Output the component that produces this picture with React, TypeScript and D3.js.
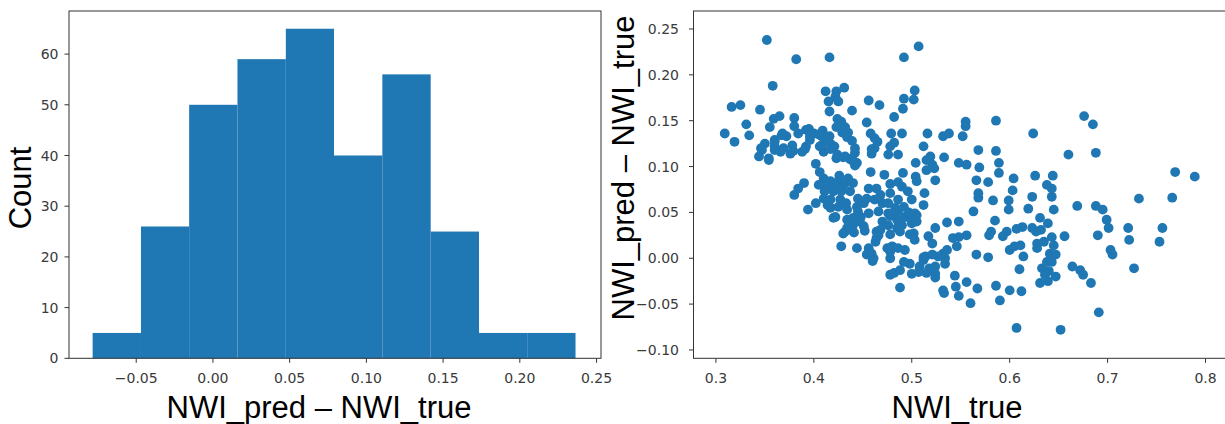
import React from 'react';
import * as d3 from 'd3';

// ---------- data ----------
const histEdges = [-0.0784, -0.0469, -0.0155, 0.016, 0.0475, 0.0789, 0.1104, 0.1419, 0.1734, 0.2048, 0.2363];
const histCounts = [5, 26, 50, 59, 65, 40, 56, 25, 5, 5];
const histXTicks = [-0.05, 0, 0.05, 0.1, 0.15, 0.2, 0.25];
const histYTicks = [0, 10, 20, 30, 40, 50, 60];
const scatterXTicks = [0.3, 0.4, 0.5, 0.6, 0.7, 0.8];
const scatterYTicks = [-0.1, -0.05, 0, 0.05, 0.1, 0.15, 0.2, 0.25];
const histXLabel = 'NWI_pred \u2013 NWI_true';
const histYLabel = 'Count';
const scatterXLabel = 'NWI_true';
const scatterYLabel = 'NWI_pred \u2013 NWI_true';

const scatterPoints: [number, number][] = [
  [0.352, 0.238], [0.507, 0.231], [0.382, 0.217], [0.416, 0.219], [0.492, 0.219], [0.358, 0.188],
  [0.412, 0.182], [0.423, 0.182], [0.431, 0.186], [0.422, 0.176], [0.415, 0.171], [0.425, 0.171], [0.416, 0.160],
  [0.503, 0.183], [0.492, 0.174], [0.502, 0.173], [0.491, 0.163], [0.456, 0.172], [0.467, 0.167], [0.439, 0.161],
  [0.316, 0.165], [0.325, 0.167], [0.345, 0.162], [0.482, 0.154], [0.454, 0.148], [0.555, 0.149], [0.555, 0.144],
  [0.586, 0.150], [0.676, 0.155], [0.685, 0.146],
  [0.309, 0.136], [0.319, 0.127], [0.331, 0.146], [0.334, 0.134], [0.355, 0.143], [0.359, 0.152], [0.365, 0.155],
  [0.380, 0.153], [0.380, 0.144],
  [0.624, 0.136], [0.516, 0.136], [0.552, 0.133], [0.532, 0.133], [0.538, 0.136], [0.490, 0.136], [0.479, 0.136],
  [0.458, 0.136], [0.462, 0.131], [0.465, 0.127],
  [0.435, 0.137], [0.432, 0.143], [0.428, 0.149], [0.424, 0.152], [0.409, 0.139], [0.416, 0.133], [0.400, 0.136],
  [0.392, 0.140], [0.384, 0.136], [0.372, 0.133], [0.368, 0.136], [0.360, 0.129], [0.350, 0.125], [0.346, 0.120],
  [0.344, 0.111], [0.354, 0.107], [0.360, 0.122], [0.366, 0.116], [0.376, 0.114], [0.378, 0.123], [0.388, 0.116],
  [0.396, 0.129], [0.392, 0.122], [0.406, 0.122], [0.408, 0.133], [0.410, 0.116], [0.421, 0.122], [0.424, 0.113],
  [0.432, 0.111], [0.442, 0.120], [0.440, 0.106], [0.444, 0.104], [0.462, 0.120], [0.459, 0.114], [0.476, 0.113],
  [0.486, 0.113], [0.478, 0.122], [0.482, 0.126], [0.512, 0.122], [0.519, 0.111], [0.521, 0.102], [0.523, 0.098],
  [0.533, 0.110], [0.504, 0.104], [0.548, 0.104], [0.556, 0.102], [0.568, 0.118], [0.586, 0.117], [0.589, 0.104],
  [0.589, 0.093], [0.569, 0.099], [0.660, 0.113], [0.688, 0.115], [0.769, 0.094], [0.789, 0.089], [0.626, 0.090],
  [0.604, 0.087], [0.644, 0.090], [0.566, 0.085], [0.578, 0.083], [0.524, 0.085], [0.491, 0.093], [0.504, 0.089],
  [0.472, 0.091], [0.402, 0.103], [0.406, 0.094], [0.390, 0.082], [0.384, 0.076], [0.380, 0.069], [0.394, 0.053],
  [0.402, 0.060], [0.414, 0.058], [0.420, 0.044], [0.428, 0.013], [0.432, 0.029], [0.444, 0.011], [0.454, 0.004],
  [0.460, -0.003], [0.456, 0.011], [0.466, 0.025], [0.468, 0.031], [0.480, 0.013], [0.478, 0.000], [0.478, -0.018],
  [0.488, -0.032], [0.482, -0.016], [0.488, -0.013], [0.498, -0.006], [0.500, -0.017], [0.508, -0.009],
  [0.512, -0.002], [0.518, -0.011], [0.524, -0.017], [0.524, -0.021], [0.532, -0.035], [0.533, -0.038],
  [0.534, -0.006], [0.532, 0.005], [0.536, 0.009], [0.544, -0.019], [0.548, -0.041], [0.556, -0.026],
  [0.560, -0.049], [0.567, -0.033], [0.566, 0.004], [0.578, 0.001], [0.586, -0.030], [0.590, -0.046],
  [0.600, -0.035], [0.607, -0.076], [0.610, -0.012], [0.612, -0.036], [0.614, 0.002], [0.600, 0.009],
  [0.605, 0.013], [0.611, 0.014], [0.652, -0.078], [0.691, -0.059], [0.683, -0.027], [0.675, -0.018],
  [0.664, -0.009], [0.672, -0.013], [0.727, -0.011], [0.633, -0.011], [0.636, -0.018], [0.631, -0.027],
  [0.647, -0.020], [0.639, -0.025], [0.641, 0.005], [0.647, 0.004], [0.643, -0.004], [0.645, 0.014],
  [0.643, 0.023], [0.656, 0.024], [0.628, 0.016], [0.632, 0.031], [0.627, 0.029], [0.623, 0.033], [0.631, 0.044],
  [0.639, 0.038], [0.645, 0.053], [0.643, 0.067], [0.643, 0.076], [0.638, 0.080], [0.623, 0.067], [0.619, 0.054],
  [0.613, 0.034], [0.607, 0.032], [0.597, 0.029], [0.599, 0.053], [0.599, 0.063], [0.603, 0.074], [0.593, 0.024],
  [0.581, 0.029], [0.579, 0.025], [0.585, 0.041], [0.583, 0.063], [0.568, 0.066], [0.568, 0.071], [0.563, 0.051],
  [0.556, 0.025], [0.548, 0.023], [0.542, 0.022], [0.548, 0.040], [0.536, 0.039], [0.524, 0.033], [0.521, 0.016],
  [0.512, 0.001], [0.669, 0.057], [0.688, 0.057], [0.695, 0.053], [0.699, 0.042], [0.701, 0.033], [0.690, 0.025],
  [0.703, 0.009], [0.705, 0.004], [0.721, 0.033], [0.722, 0.020], [0.732, 0.065], [0.766, 0.066], [0.756, 0.033],
  [0.753, 0.018],
  [0.417, 0.125], [0.423, 0.109], [0.439, 0.109], [0.505, 0.084], [0.515, 0.107], [0.515, 0.096],
  [0.410, 0.087], [0.417, 0.084], [0.425, 0.084], [0.432, 0.082], [0.411, 0.073], [0.420, 0.073], [0.428, 0.073],
  [0.437, 0.073], [0.440, 0.082], [0.410, 0.065], [0.417, 0.064], [0.417, 0.055], [0.425, 0.056], [0.434, 0.053],
  [0.444, 0.056], [0.451, 0.060], [0.456, 0.076], [0.464, 0.076], [0.454, 0.065], [0.462, 0.064], [0.468, 0.069],
  [0.478, 0.071], [0.476, 0.060], [0.486, 0.064], [0.490, 0.078], [0.496, 0.073], [0.500, 0.064], [0.512, 0.058],
  [0.513, 0.071], [0.503, 0.049], [0.486, 0.051], [0.476, 0.049], [0.466, 0.051], [0.456, 0.049], [0.445, 0.051],
  [0.440, 0.044], [0.422, 0.045], [0.493, 0.045],
  [0.434, 0.033], [0.440, 0.036], [0.447, 0.040], [0.434, 0.042], [0.451, 0.035], [0.430, 0.027], [0.459, 0.005],
  [0.464, 0.022],
  [0.478, 0.046], [0.485, 0.042], [0.500, 0.038], [0.505, 0.040], [0.476, 0.036], [0.485, 0.033], [0.490, 0.036],
  [0.502, 0.027], [0.486, 0.011], [0.493, 0.009], [0.514, 0.002], [0.515, -0.016], [0.517, 0.024],
  [0.347, 0.118], [0.354, 0.109], [0.360, 0.127], [0.367, 0.134], [0.360, 0.118], [0.369, 0.120], [0.379, 0.117],
  [0.395, 0.141], [0.396, 0.133], [0.391, 0.119], [0.405, 0.135], [0.413, 0.130], [0.408, 0.123], [0.417, 0.119],
  [0.423, 0.143], [0.429, 0.137], [0.434, 0.132], [0.439, 0.128], [0.442, 0.115], [0.437, 0.108], [0.430, 0.110],
  [0.459, 0.119], [0.442, 0.101],
  [0.458, 0.094], [0.478, 0.081], [0.486, 0.083],
  [0.545, -0.031], [0.524, -0.009], [0.534, 0.000], [0.527, 0.002], [0.521, 0.004], [0.507, -0.015], [0.478, 0.007],
  [0.492, -0.004], [0.546, 0.013], [0.635, 0.018], [0.628, 0.011], [0.638, -0.004],
  [0.498, 0.044], [0.505, 0.047], [0.478, 0.026], [0.488, 0.029], [0.498, 0.026], [0.464, 0.029], [0.463, 0.018],
  [0.475, 0.011], [0.503, 0.020], [0.461, 0.000], [0.640, -0.014],
  [0.413, 0.078], [0.421, 0.080], [0.429, 0.078], [0.435, 0.087], [0.405, 0.080], [0.445, 0.065], [0.448, 0.045],
  [0.441, 0.028], [0.452, 0.030], [0.470, 0.040], [0.483, 0.055], [0.492, 0.056], [0.497, 0.050], [0.470, 0.060],
  [0.426, 0.090], [0.427, 0.064], [0.433, 0.060],
];

const COLOR = '#1f77b4';
const TICK_FONT = '"DejaVu Sans", sans-serif';
const LABEL_FONT = '"Liberation Sans", Arial, sans-serif';
const TICK_COLOR = '#333';
const LABEL_COLOR = '#3a3a3a';

const W = 1225;
const H = 424;

export default function App() {
  // Left: histogram
  const hl = { left: 69, right: 601, top: 11, bottom: 358.3 };
  const xH = d3.scaleLinear().domain([-0.0938, 0.2529]).range([hl.left, hl.right]);
  const yH = d3.scaleLinear().domain([0, 68.5]).range([hl.bottom, hl.top]);

  // Right: scatter
  const sl = { left: 693.5, right: 1234.9, top: 11, bottom: 358.3 };
  const xS = d3.scaleLinear().domain([0.2771, 0.83]).range([sl.left, sl.right]);
  const yS = d3.scaleLinear().domain([-0.1091, 0.2696]).range([sl.bottom, sl.top]);

  const f2 = d3.format('.2f');
  const f1 = d3.format('.1f');
  const fi = d3.format('d');

  const bins = histCounts.map((c, i) => ({ x0: histEdges[i], x1: histEdges[i + 1], c }));

  return (
    <svg
      width={W}
      height={H}
      style={{ position: 'absolute', left: 0, top: 0, background: '#fff' }}
    >
      {/* ---------- Histogram ---------- */}
      <g>
        {bins.map((b, i) => (
          <rect
            key={i}
            x={xH(b.x0)}
            y={yH(b.c)}
            width={xH(b.x1) - xH(b.x0)}
            height={yH(0) - yH(b.c)}
            fill={COLOR}
          />
        ))}
        <rect
          x={hl.left}
          y={hl.top}
          width={hl.right - hl.left}
          height={hl.bottom - hl.top}
          fill="none"
          stroke={TICK_COLOR}
          strokeWidth={1}
        />
        {histXTicks.map((t) => (
          <g key={'hx' + t}>
            <line x1={xH(t)} x2={xH(t)} y1={hl.bottom} y2={hl.bottom + 4.5} stroke={TICK_COLOR} />
            <text
              x={xH(t)}
              y={382.5}
              textAnchor="middle"
              fontFamily={TICK_FONT}
              fontSize={14}
              fill={LABEL_COLOR}
            >
              {f2(t)}
            </text>
          </g>
        ))}
        {histYTicks.map((t) => (
          <g key={'hy' + t}>
            <line x1={hl.left - 4.5} x2={hl.left} y1={yH(t)} y2={yH(t)} stroke={TICK_COLOR} />
            <text
              x={58.5}
              y={yH(t)}
              dy="0.36em"
              textAnchor="end"
              fontFamily={TICK_FONT}
              fontSize={14}
              fill={LABEL_COLOR}
            >
              {fi(t)}
            </text>
          </g>
        ))}
        <text
          x={319}
          y={418}
          textAnchor="middle"
          fontFamily={LABEL_FONT}
          fontSize={31}
          fill="#000"
        >
          {histXLabel}
        </text>
        <text
          transform={`translate(30.5, 188) rotate(-90)`}
          textAnchor="middle"
          fontFamily={LABEL_FONT}
          fontSize={31}
          fill="#000"
        >
          {histYLabel}
        </text>
      </g>

      {/* ---------- Scatter ---------- */}
      <g>
        <rect x={sl.left} y={sl.top} width={W - sl.left} height={sl.bottom - sl.top} fill="#fff" />
        {scatterPoints.map((p, i) => (
          <circle key={i} cx={xS(p[0])} cy={yS(p[1])} r={4.9} fill={COLOR} />
        ))}
        <rect
          x={sl.left}
          y={sl.top}
          width={sl.right - sl.left}
          height={sl.bottom - sl.top}
          fill="none"
          stroke={TICK_COLOR}
          strokeWidth={1}
        />
        {scatterXTicks.map((t) => (
          <g key={'sx' + t}>
            <line x1={xS(t)} x2={xS(t)} y1={sl.bottom} y2={sl.bottom + 4.5} stroke={TICK_COLOR} />
            <text
              x={xS(t)}
              y={383}
              textAnchor="middle"
              fontFamily={TICK_FONT}
              fontSize={14}
              fill={LABEL_COLOR}
            >
              {f1(t)}
            </text>
          </g>
        ))}
        {scatterYTicks.map((t) => (
          <g key={'sy' + t}>
            <line x1={sl.left - 4.5} x2={sl.left} y1={yS(t)} y2={yS(t)} stroke={TICK_COLOR} />
            <text
              x={679}
              y={yS(t)}
              dy="0.36em"
              textAnchor="end"
              fontFamily={TICK_FONT}
              fontSize={14}
              fill={LABEL_COLOR}
            >
              {f2(t)}
            </text>
          </g>
        ))}
        <text
          x={957}
          y={418}
          textAnchor="middle"
          fontFamily={LABEL_FONT}
          fontSize={31}
          fill="#000"
        >
          {scatterXLabel}
        </text>
        <text
          transform={`translate(634, 168) rotate(-90)`}
          textAnchor="middle"
          fontFamily={LABEL_FONT}
          fontSize={31}
          fill="#000"
        >
          {scatterYLabel}
        </text>
      </g>
    </svg>
  );
}
